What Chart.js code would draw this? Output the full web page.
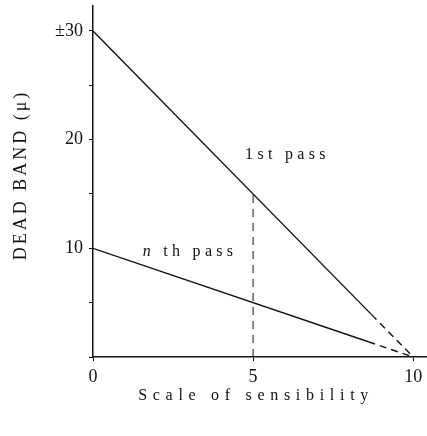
<!DOCTYPE html>
<html lang="en">
<head>
<meta charset="UTF-8">
<title>Dead band</title>
<style>
  html, body { margin: 0; padding: 0; background: #fff; }
</style>
</head>
<body>
<canvas id="myChart" width="427" height="436"></canvas>

<script src="https://cdn.jsdelivr.net/npm/chart.js"></script>

<script>
    // values (solid part ends at index 1, then dashed to 10)
    const firstPassX = [0, 8.7, 10];
    const firstPassY = [30, 3.9, 0];
    const nthPassX = [0, 8.6, 10];
    const nthPassY = [10, 1.4, 0];
    // vertical dashed guide at 5
    const guideX = [5, 5];
    const guideY = [0, 15];

    const xTicks = [0, 5, 10];
    const yTicks = [0, 5, 10, 15, 20, 25, 30];
    const yLabels = { 10: '10', 20: '20', 30: '±30' };

    const xTitle = 'Scale of sensibility';
    const yTitle = 'DEAD BAND (μ)';
    const notes = [
        { parts: [{ t: '1st pass' }], x: 4.75, y: 18.2 },
        { parts: [{ t: 'n', italic: true }, { t: ' th pass' }], x: 1.55, y: 9.3 }
    ];

    const ink = '#111';
    const serif = '"Liberation Serif", "DejaVu Serif", serif';

    const toPoints = (xs, ys) => xs.map((x, i) => ({ x: x, y: ys[i] }));
    const dashAfterFirst = s => s.p0DataIndex >= 1 ? [7, 5] : undefined;
    // keep tick labels from pushing the plot area around
    const noPad = s => { s.paddingTop = 0; s.paddingBottom = 0; s.paddingLeft = 0; s.paddingRight = 0; };

    // axis titles and in-plot labels, with letter spacing like the print
    const textPlugin = {
        id: 'texts',
        afterDraw(chart) {
            const c = chart.ctx, xs = chart.scales.x, ys = chart.scales.y;
            c.save();
            c.fillStyle = ink;
            c.textBaseline = 'alphabetic';
            notes.forEach(n => {
                let px = xs.getPixelForValue(n.x);
                const py = ys.getPixelForValue(n.y);
                n.parts.forEach(p => {
                    c.font = (p.italic ? 'italic ' : '') + '16px ' + serif;
                    c.letterSpacing = '4.3px';
                    c.textAlign = 'left';
                    c.fillText(p.t, px, py);
                    px += c.measureText(p.t).width;
                });
            });

            c.font = '16px ' + serif;
            c.letterSpacing = '5.7px';
            c.textAlign = 'center';
            c.fillText(xTitle, xs.getPixelForValue(5) + 3, 400);

            c.font = '18px ' + serif;
            c.letterSpacing = '3px';
            c.translate(26, 175);
            c.rotate(-Math.PI / 2);
            c.fillText(yTitle, 0, 0);
            c.restore();
        }
    };

    new Chart(document.getElementById('myChart'), {
        type: 'scatter',
        data: {
            datasets: [
                {
                    label: '1st pass',
                    data: toPoints(firstPassX, firstPassY),
                    showLine: true,
                    borderColor: ink,
                    borderWidth: 1.4,
                    pointRadius: 0,
                    segment: { borderDash: dashAfterFirst }
                },
                {
                    label: 'n th pass',
                    data: toPoints(nthPassX, nthPassY),
                    showLine: true,
                    borderColor: ink,
                    borderWidth: 1.4,
                    pointRadius: 0,
                    segment: { borderDash: dashAfterFirst }
                },
                {
                    label: 'guide',
                    data: toPoints(guideX, guideY),
                    showLine: true,
                    borderColor: ink,
                    borderWidth: 1,
                    borderDash: [8, 6],
                    pointRadius: 0
                }
            ]
        },
        options: {
            responsive: false,
            animation: false,
            plugins: {
                legend: { display: false },
                tooltip: { enabled: false }
            },
            layout: { padding: { top: 6, right: 1, left: 0, bottom: 0 } },
            scales: {
                x: {
                    type: 'linear',
                    min: 0,
                    max: 10.4,
                    afterBuildTicks: s => { s.ticks = xTicks.map(v => ({ value: v })); },
                    afterFit: s => { s.height = 79; noPad(s); },
                    ticks: {
                        font: { family: serif, size: 18 },
                        color: ink,
                        padding: 5,
                        maxRotation: 0,
                        callback: v => String(v)
                    },
                    grid: { drawOnChartArea: false, tickLength: 4, color: ink },
                    border: { color: ink, width: 1.4, dash: [40, 4, 2, 4] }
                },
                y: {
                    min: 0,
                    max: 32.3,
                    afterBuildTicks: s => { s.ticks = yTicks.map(v => ({ value: v })); },
                    afterFit: s => { s.width = 93; noPad(s); },
                    ticks: {
                        font: { family: serif, size: 18 },
                        color: ink,
                        padding: 6,
                        callback: v => yLabels[v] || ''
                    },
                    grid: { drawOnChartArea: false, tickLength: 4, color: ink },
                    border: { color: ink, width: 1.5 }
                }
            }
        },
        plugins: [textPlugin]
    });
</script>
</body>
</html>
